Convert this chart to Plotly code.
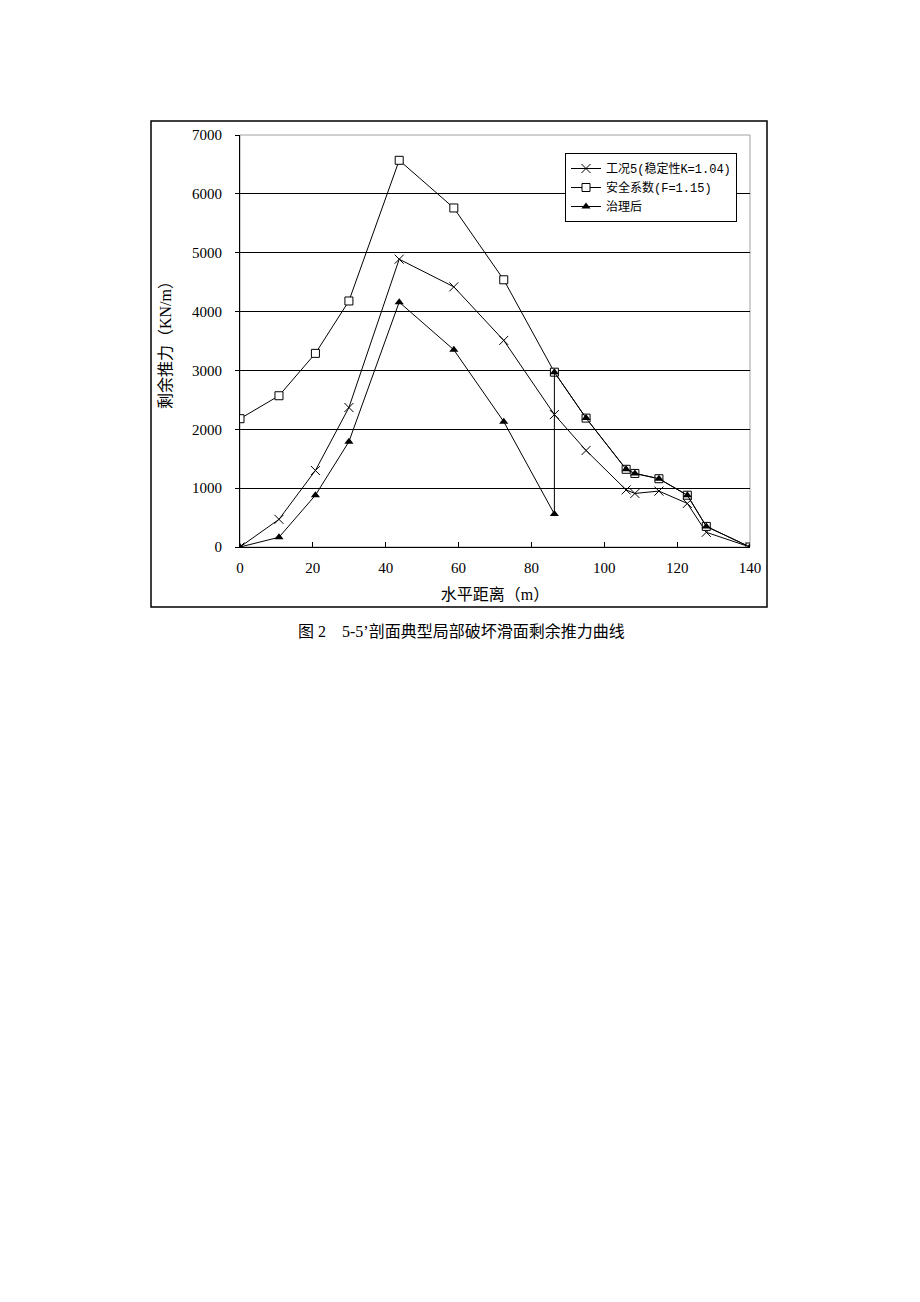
import plotly.graph_objects as go

x_vals = [0, 10.7, 20.7, 29.9, 43.7, 58.7, 72.4, 86.3, 95.0, 106.0, 108.4, 115.0, 122.8, 128.0, 140.0]
case5 = [0, 470, 1300, 2370, 4890, 4420, 3510, 2250, 1640, 970, 910, 950, 740, 250, 0]
safety = [2180, 2570, 3290, 4180, 6570, 5760, 4540, 2970, 2190, 1320, 1250, 1160, 880, 350, 0]
x_after = [0, 10.7, 20.7, 29.9, 43.7, 58.7, 72.4, 86.3, 86.3, 95.0, 106.0, 108.4, 115.0, 122.8, 128.0, 140.0]
after = [0, 165, 880, 1790, 4160, 3350, 2130, 560, 2970, 2190, 1320, 1250, 1160, 880, 350, 0]

names = ["工况5(稳定性K=1.04)", "安全系数(F=1.15)", "治理后"]
x_ticks = [0, 20, 40, 60, 80, 100, 120, 140]
y_ticks = [0, 1000, 2000, 3000, 4000, 5000, 6000, 7000]

serif = "Liberation Serif, Noto Sans CJK SC"
mono = "Liberation Mono, Noto Sans CJK SC"

# page offset (body margin) of 8px
OX, OY = 8, 8
L, T, W, H = 240 - OX, 135 - OY, 510, 412

fig = go.Figure()
fig.add_trace(go.Scatter(x=x_vals, y=case5, name=names[0], mode="lines+markers",
                         line=dict(color="black", width=1),
                         marker=dict(symbol="x-thin-open", size=9, color="black",
                                     line=dict(color="black", width=1))))
fig.add_trace(go.Scatter(x=x_vals, y=safety, name=names[1], mode="lines+markers",
                         line=dict(color="black", width=1),
                         marker=dict(symbol="square", size=8, color="white",
                                     line=dict(color="black", width=1))))
fig.add_trace(go.Scatter(x=x_after, y=after, name=names[2], mode="lines+markers",
                         line=dict(color="black", width=1),
                         marker=dict(symbol="triangle-up", size=8, color="black",
                                     line=dict(color="black", width=0))))

fig.update_layout(
    width=920, height=1302,
    margin=dict(l=L, r=920 - L - W, t=T, b=1302 - T - H),
    paper_bgcolor="white", plot_bgcolor="white",
    font=dict(family=serif, color="black", size=15),
    showlegend=True,
    legend=dict(x=(565 - 240) / 510, y=(547 - 153) / 412, xanchor="left", yanchor="top",
                bgcolor="white", bordercolor="black", borderwidth=1,
                font=dict(family=mono, size=12), tracegroupgap=0,
                itemwidth=30),
    xaxis=dict(range=[0, 140], tickvals=x_ticks, showgrid=False, zeroline=False,
               showline=True, linecolor="black", linewidth=1,
               ticks="inside", ticklen=5, tickcolor="black",
               ticklabelstandoff=7,
               tickfont=dict(family=serif, size=15),
               title=dict(text="水平距离（m）", font=dict(family=serif, size=16), standoff=13)),
    yaxis=dict(range=[0, 7000], tickvals=y_ticks, showgrid=True, gridcolor="black",
               gridwidth=1, zeroline=False,
               showline=True, linecolor="black", linewidth=1,
               ticks="outside", ticklen=4, tickcolor="black",
               ticklabelstandoff=10,
               tickfont=dict(family=serif, size=15),
               title=dict(text="剩余推力（KN/m）", font=dict(family=serif, size=16), standoff=16)),
)

# plot-area border (grey top/right)
fig.add_shape(type="rect", xref="paper", yref="paper", x0=0, x1=1, y0=0, y1=1,
              line=dict(color="#a0a0a0", width=1), layer="below")
# outer chart frame
fig.add_shape(type="rect", xref="paper", yref="paper",
              x0=(151 - 240) / 510, x1=(767 - 240) / 510,
              y0=(547 - 607) / 412, y1=(547 - 121) / 412,
              line=dict(color="black", width=1.5))

fig.add_annotation(text="图 2　5-5’剖面典型局部破坏滑面剩余推力曲线",
                   xref="paper", yref="paper", x=(461 - 240) / 510, y=(547 - 631) / 412,
                   xanchor="center", yanchor="middle", showarrow=False,
                   font=dict(family=serif, size=16, color="black"))

fig.write_html("out.html")
